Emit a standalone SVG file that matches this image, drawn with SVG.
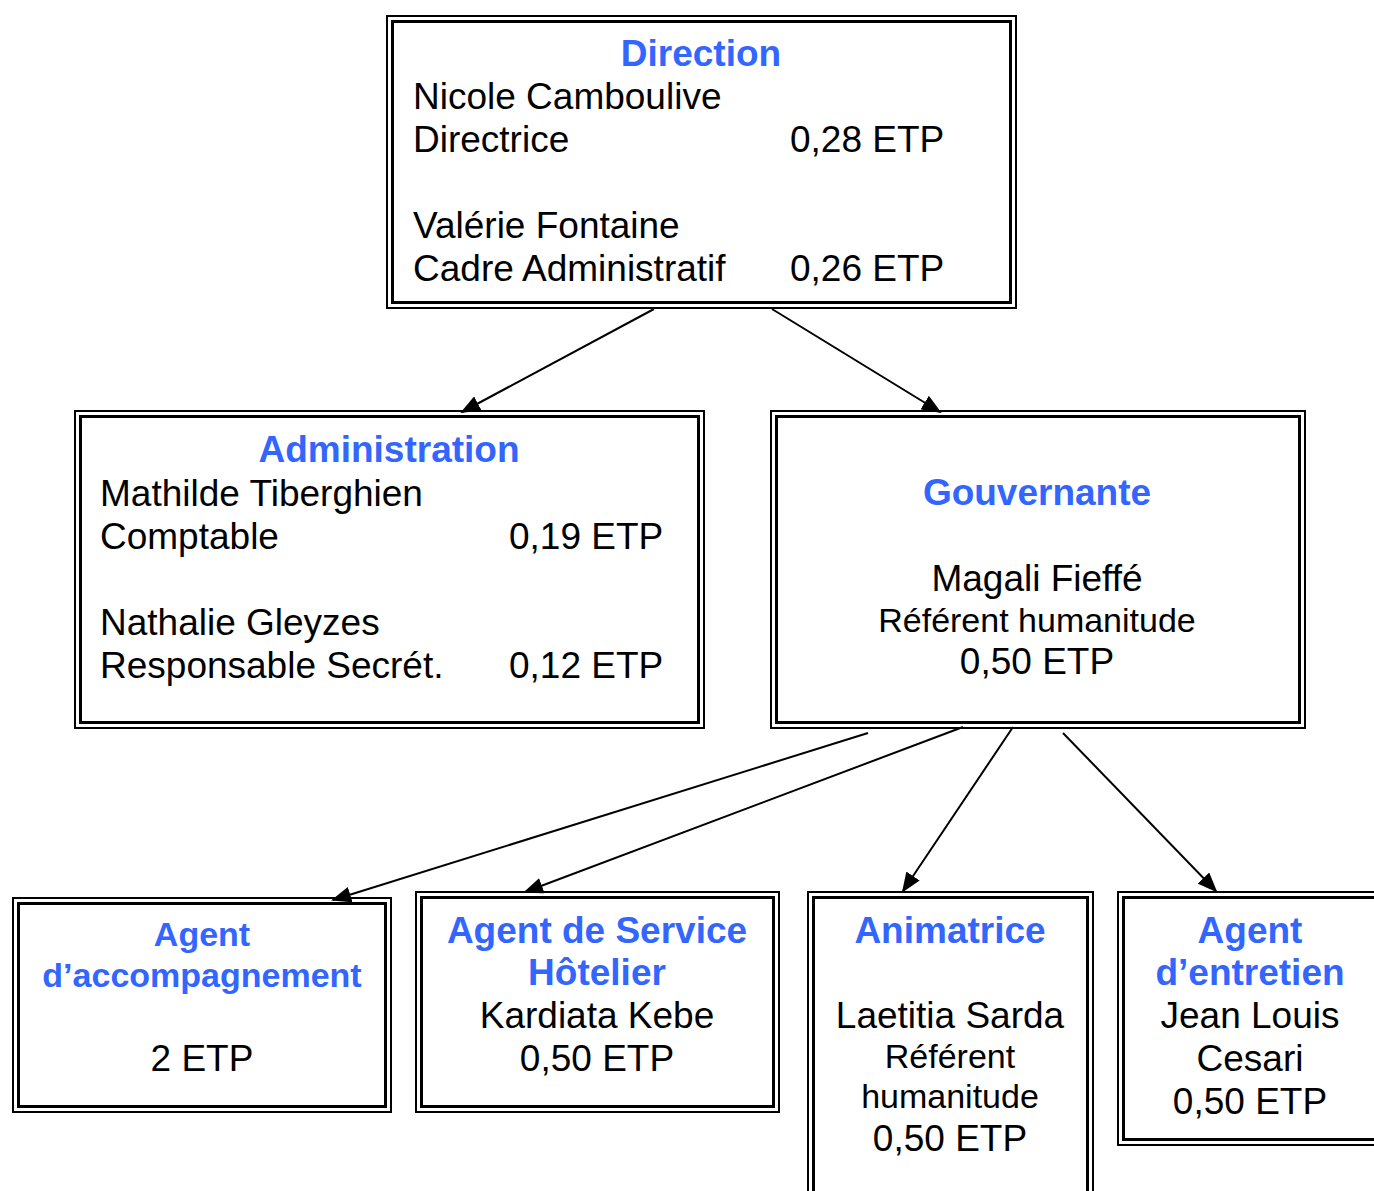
<svg xmlns="http://www.w3.org/2000/svg" width="1374" height="1191" viewBox="0 0 1374 1191">
<style>
.o{fill:none;stroke:#000;stroke-width:2}
.i{fill:none;stroke:#000;stroke-width:3}
text{font-family:"Liberation Sans",Arial,sans-serif;font-size:37px;fill:#000}
.t{font-weight:bold;fill:#3366ff}
.s{font-size:34px}
.c{text-anchor:middle}
.e{stroke:#000;stroke-width:2;fill:none}
</style>
<defs>
<marker id="ah" markerWidth="20" markerHeight="16" refX="18" refY="8" orient="auto" markerUnits="userSpaceOnUse">
<path d="M0,0 L20,8 L0,16 Z" fill="#000"/>
</marker>
</defs>
<rect width="1374" height="1191" fill="#fff"/>
<g id="connectors">
<line class="e" x1="654" y1="309" x2="462" y2="412" marker-end="url(#ah)"/>
<line class="e" x1="772" y1="309" x2="940" y2="412" marker-end="url(#ah)"/>
<line class="e" x1="868" y1="733" x2="333" y2="900" marker-end="url(#ah)"/>
<line class="e" x1="963" y1="727" x2="525" y2="892" marker-end="url(#ah)"/>
<line class="e" x1="1013" y1="727" x2="903" y2="891" marker-end="url(#ah)"/>
<line class="e" x1="1063" y1="733" x2="1216" y2="891" marker-end="url(#ah)"/>
</g>
<g id="direction">
<rect class="o" x="387" y="16" width="629" height="292"/>
<rect class="i" x="392.5" y="21.5" width="618" height="281"/>
<text class="t c" x="701" y="66">Direction</text>
<text x="413" y="109">Nicole Camboulive</text>
<text x="413" y="152">Directrice</text>
<text x="790" y="152">0,28 ETP</text>
<text x="413" y="238">Valérie Fontaine</text>
<text x="413" y="281">Cadre Administratif</text>
<text x="790" y="281">0,26 ETP</text>
</g>
<g id="administration">
<rect class="o" x="75" y="411" width="629" height="317"/>
<rect class="i" x="80.5" y="416.5" width="618" height="306"/>
<text class="t c" x="389" y="462">Administration</text>
<text x="100" y="506">Mathilde Tiberghien</text>
<text x="100" y="549">Comptable</text>
<text x="509" y="549">0,19 ETP</text>
<text x="100" y="635">Nathalie Gleyzes</text>
<text x="100" y="678">Responsable Secrét.</text>
<text x="509" y="678">0,12 ETP</text>
</g>
<g id="gouvernante">
<rect class="o" x="771" y="411" width="534" height="317"/>
<rect class="i" x="776.5" y="416.5" width="523" height="306"/>
<text class="t c" x="1037" y="505">Gouvernante</text>
<text class="c" x="1037" y="591">Magali Fieffé</text>
<text class="c s" x="1037" y="632">Référent humanitude</text>
<text class="c" x="1037" y="674">0,50 ETP</text>
</g>
<g id="accompagnement">
<rect class="o" x="13" y="898" width="378" height="214"/>
<rect class="i" x="18.5" y="903.5" width="367" height="203"/>
<text class="t c s" x="202" y="946">Agent</text>
<text class="t c s" x="202" y="987">d’accompagnement</text>
<text class="c" x="202" y="1071">2 ETP</text>
</g>
<g id="hotelier">
<rect class="o" x="416" y="892" width="363" height="220"/>
<rect class="i" x="421.5" y="897.5" width="352" height="209"/>
<text class="t c" x="597" y="943">Agent de Service</text>
<text class="t c" x="597" y="985">Hôtelier</text>
<text class="c" x="597" y="1028">Kardiata Kebe</text>
<text class="c" x="597" y="1071">0,50 ETP</text>
</g>
<g id="animatrice">
<rect class="o" x="808" y="892" width="285" height="310"/>
<rect class="i" x="813.5" y="897.5" width="274" height="300"/>
<text class="t c" x="950" y="943">Animatrice</text>
<text class="c" x="950" y="1028">Laetitia Sarda</text>
<text class="c s" x="950" y="1068">Référent</text>
<text class="c s" x="950" y="1108">humanitude</text>
<text class="c" x="950" y="1151">0,50 ETP</text>
</g>
<g id="entretien">
<rect class="o" x="1118" y="892" width="270" height="253"/>
<rect class="i" x="1123.5" y="897.5" width="270" height="242"/>
<text class="t c" x="1250" y="943">Agent</text>
<text class="t c" x="1250" y="985">d’entretien</text>
<text class="c" x="1250" y="1028">Jean Louis</text>
<text class="c" x="1250" y="1071">Cesari</text>
<text class="c" x="1250" y="1114">0,50 ETP</text>
</g>
</svg>
